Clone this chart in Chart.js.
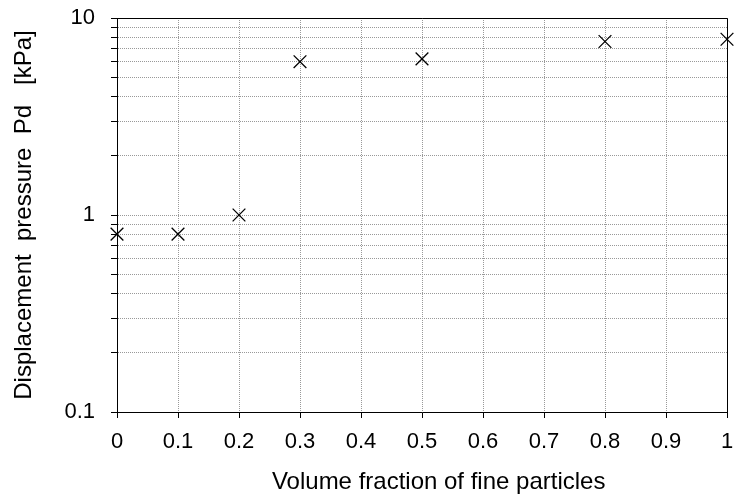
<!DOCTYPE html>
<html>
<head>
<meta charset="utf-8">
<script src="https://cdn.jsdelivr.net/npm/chart.js@4"></script>
<style>
    body { margin: 0; background: #fff; }
    #wrap { width: 734px; height: 500px; }
</style>
</head>
<body>
<div id="wrap"><canvas id="pdChart" width="734" height="500"></canvas></div>
<script>
// Measured points: fine particle fraction vs displacement pressure
const fineFraction = [0, 0.1, 0.2, 0.3, 0.5, 0.8, 1.0];
const pressureKPa = [0.8, 0.8, 1.0, 6.0, 6.2, 7.6, 7.8];

// Log axis ticks (labelled only at the decades)
const yTickValues = [0.1, 0.2, 0.3, 0.4, 0.5, 0.6, 0.7, 0.8, 0.9,
                     1, 2, 3, 4, 5, 6, 7, 8, 9, 10];
const yTickLabels = ['0.1', '1', '10'];

const fontFamily = '"Liberation Sans", Arial, sans-serif';

// Closes the plot box on the top and right sides
const frameBox = {
    id: 'frameBox',
    beforeDatasetsDraw(chart) {
        const { ctx, chartArea: a } = chart;
        ctx.save();
        ctx.strokeStyle = '#000';
        ctx.lineWidth = 1;
        ctx.beginPath();
        ctx.moveTo(Math.round(a.left) + 0.5, Math.round(a.top) + 0.5);
        ctx.lineTo(Math.round(a.right) + 0.5, Math.round(a.top) + 0.5);
        ctx.lineTo(Math.round(a.right) + 0.5, Math.round(a.bottom) + 0.5);
        ctx.stroke();
        ctx.restore();
    }
};

const ctx = document.getElementById('pdChart').getContext('2d');
new Chart(ctx, {
    type: 'scatter',
    data: {
        datasets: [{
            data: fineFraction.map((x, i) => ({ x: x, y: pressureKPa[i] })),
            pointStyle: 'crossRot',
            pointRadius: 9,
            pointHoverRadius: 9,
            borderColor: '#000',
            backgroundColor: '#000',
            borderWidth: 1.3,
            clip: false
        }]
    },
    options: {
        responsive: false,
        animation: false,
        layout: {
            autoPadding: false,
            padding: { top: 18, right: 7, left: 0, bottom: 0 }
        },
        plugins: {
            legend: { display: false },
            tooltip: { enabled: false }
        },
        scales: {
            x: {
                type: 'linear',
                min: 0,
                max: 1,
                afterFit: (scale) => {
                    scale.height = 88;
                    scale.paddingLeft = 0;
                    scale.paddingRight = 0;
                },
                ticks: {
                    stepSize: 0.1,
                    color: '#000',
                    padding: 11,
                    maxRotation: 0,
                    font: { family: fontFamily, size: 22 },
                    callback: (v) => String(Number(v.toFixed(1)))
                },
                grid: {
                    color: '#999',
                    lineWidth: 1,
                    tickColor: '#000',
                    tickLength: 6,
                    tickBorderDash: []
                },
                border: { color: '#000', width: 1, dash: [1, 1] },
                title: {
                    display: true,
                    // leading spaces push the centred title a little to the right
                    text: '     Volume fraction of fine particles',
                    color: '#000',
                    font: { family: fontFamily, size: 24 },
                    padding: { top: 0, bottom: 3 }
                }
            },
            y: {
                type: 'logarithmic',
                min: 0.1,
                max: 10,
                afterFit: (scale) => {
                    scale.width = 117;
                    scale.paddingTop = 0;
                    scale.paddingBottom = 0;
                },
                afterBuildTicks: (scale) => {
                    scale.ticks = yTickValues.map(v => ({ value: v }));
                },
                ticks: {
                    autoSkip: false,
                    color: '#000',
                    padding: 16,
                    font: { family: fontFamily, size: 22 },
                    callback: (v) => {
                        const s = String(v);
                        return yTickLabels.includes(s) ? s : '';
                    }
                },
                grid: {
                    color: '#999',
                    lineWidth: 1,
                    tickColor: '#000',
                    tickLength: 6,
                    tickBorderDash: []
                },
                border: { color: '#000', width: 1, dash: [1, 1] },
                title: {
                    display: true,
                    text: 'Displacement  pressure  Pd   [kPa]',
                    color: '#000',
                    font: { family: fontFamily, size: 24 },
                    padding: { top: 10, bottom: 0 }
                }
            }
        }
    },
    plugins: [frameBox]
});
</script>
</body>
</html>
